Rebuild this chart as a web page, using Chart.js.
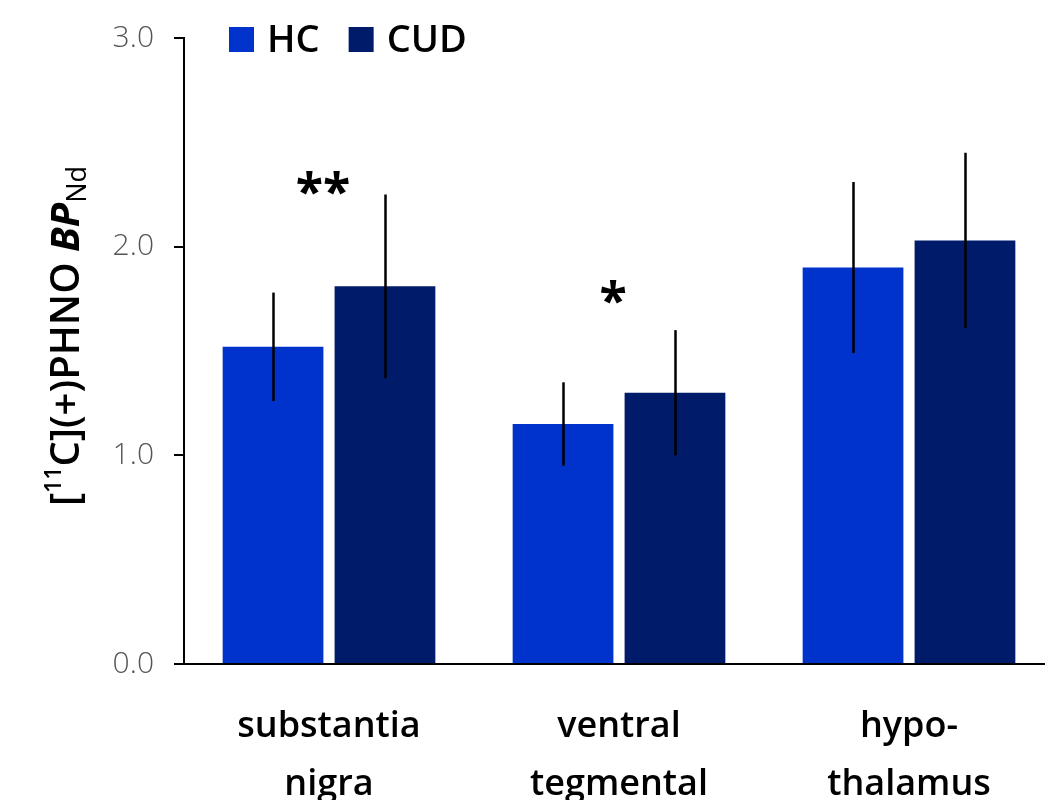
<!DOCTYPE html>
<html>
<head>
<meta charset="utf-8">
<script src="https://cdn.jsdelivr.net/npm/chart.js@4/dist/chart.umd.min.js"></script>
<style>
  html, body { margin: 0; padding: 0; background: #fff; overflow: hidden; }
  #wrap { width: 1070px; height: 860px; }
</style>
</head>
<body>
<div id="wrap"><canvas id="c" width="1070" height="860"></canvas></div>
<script>
// ---- data ----
const categories = [["substantia", "nigra"], ["ventral", "tegmental"], ["hypo-", "thalamus"]];
const seriesNames = ["HC", "CUD"];
const hcMeans = [1.52, 1.15, 1.90];
const hcErr = [0.26, 0.20, 0.41];
const cudMeans = [1.81, 1.30, 2.03];
const cudErr = [0.44, 0.30, 0.42];
const sigMarks = ["**", "*", ""];
const sigLevel = [2.30, 1.78, null];
const yTicks = [0, 1, 2, 3];

const colors = ["#0033CC", "#001B69"];
const FONT = "'Open Sans', 'Noto Sans', sans-serif";

const errorBars = {
  id: "errorBars",
  afterDatasetsDraw(chart) {
    const ctx = chart.ctx;
    const y = chart.scales.y;
    const errs = [hcErr, cudErr];
    ctx.save();
    ctx.strokeStyle = "#000";
    ctx.lineWidth = 2.5;
    chart.data.datasets.forEach((ds, di) => {
      const meta = chart.getDatasetMeta(di);
      meta.data.forEach((bar, i) => {
        const v = ds.data[i], e = errs[di][i];
        ctx.beginPath();
        ctx.moveTo(Math.round(bar.x) + 0.5, y.getPixelForValue(v + e));
        ctx.lineTo(Math.round(bar.x) + 0.5, y.getPixelForValue(v - e));
        ctx.stroke();
      });
    });
    // significance marks
    ctx.fillStyle = "#000";
    ctx.font = "700 50px " + FONT;
    ctx.textAlign = "center";
    ctx.textBaseline = "middle";
    sigMarks.forEach((m, i) => {
      if (!m) return;
      const x = chart.scales.x.getPixelForValue(i) - 6;
      const yy = y.getPixelForValue(sigLevel[i]) + 11;
      ctx.fillText(m, x, yy);
    });
    ctx.restore();
  },
  afterDraw(chart) {
    const ctx = chart.ctx;
    const ca = chart.chartArea;
    ctx.save();
    // legend
    ctx.font = "600 38px " + FONT;
    ctx.textBaseline = "middle";
    ctx.textAlign = "left";
    let x = ca.left + 45;
    const cy = ca.top + 1.5;
    chart.data.datasets.forEach((ds, di) => {
      ctx.fillStyle = ds.backgroundColor;
      ctx.fillRect(x, cy - 12.5, 25, 25);
      x += 25 + 13;
      ctx.fillStyle = "#000";
      ctx.fillText(ds.label, x, cy + 2);
      x += ctx.measureText(ds.label).width + 29;
    });
    // y-axis title: [11C](+)PHNO BP_Nd
    const parts = [
      { t: "[", f: "600 40px " + FONT, dy: 0 },
      { t: "11", f: "600 23px " + FONT, dy: -18 },
      { t: "C](+)PHNO ", f: "600 40px " + FONT, dy: 0 },
      { t: "BP", f: "italic 700 40px " + FONT, dy: 0 },
      { t: "Nd", f: "500 27px " + FONT, dy: 7 }
    ];
    let total = 0;
    parts.forEach(p => { ctx.font = p.f; p.w = ctx.measureText(p.t).width; total += p.w; });
    ctx.translate(79, 336);
    ctx.rotate(-Math.PI / 2);
    ctx.fillStyle = "#000";
    ctx.textBaseline = "alphabetic";
    let px = -total / 2;
    parts.forEach(p => { ctx.font = p.f; ctx.fillText(p.t, px, p.dy); px += p.w; });
    ctx.restore();
  }
};

new Chart(document.getElementById("c"), {
  type: "bar",
  data: {
    labels: categories,
    datasets: [
      { label: seriesNames[0], data: hcMeans, backgroundColor: colors[0], borderWidth: 0 },
      { label: seriesNames[1], data: cudMeans, backgroundColor: colors[1], borderWidth: 0 }
    ]
  },
  options: {
    responsive: false,
    animation: false,
    events: [],
    layout: { padding: { top: 35, right: 16, left: 0, bottom: 0 } },
    datasets: { bar: { categoryPercentage: 0.772, barPercentage: 0.9 } },
    plugins: { legend: { display: false }, tooltip: { enabled: false } },
    scales: {
      x: {
        grid: { display: false },
        border: { display: true, color: "#000", width: 2 },
        ticks: { color: "#000", font: { family: FONT, size: 36, weight: 600, lineHeight: 1.6 }, padding: 26, maxRotation: 0, autoSkip: false },
        afterFit(scale) { scale.height = 860 - 664; }
      },
      y: {
        min: 0, max: 3,
        afterBuildTicks(scale) { scale.ticks = yTicks.map(v => ({ value: v })); },
        grid: { display: true, drawOnChartArea: false, drawTicks: true, tickLength: 10, color: "#000", lineWidth: 2 },
        border: { display: true, color: "#000", width: 2 },
        ticks: { color: "#555555", font: { family: FONT, size: 30, weight: 300 }, padding: 20, callback: v => Number(v).toFixed(1) },
        afterFit(scale) { scale.width = 184; }
      }
    }
  },
  plugins: [errorBars]
});
</script>
</body>
</html>
